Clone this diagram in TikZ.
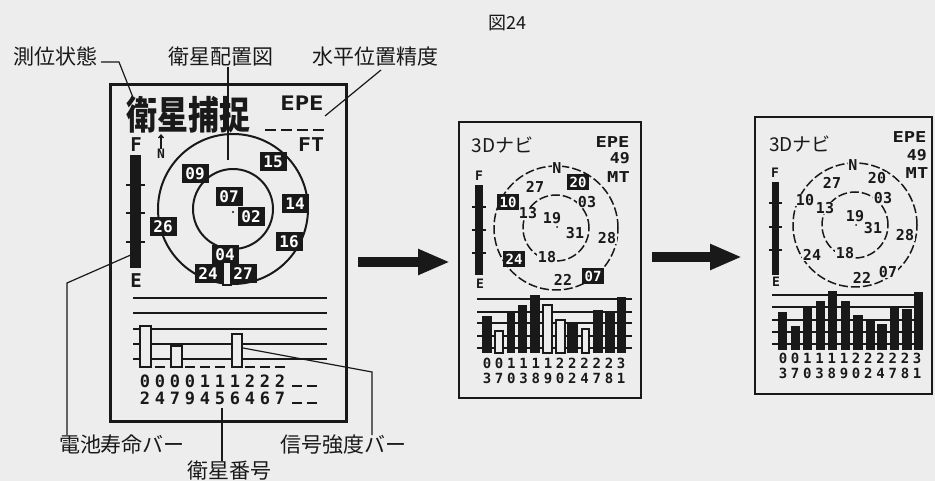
\documentclass[tikz,border=0pt]{standalone}
\usepackage{fontspec}
\setmainfont{Noto Sans CJK JP}
\newfontfamily\jp{Noto Sans CJK JP}
\newfontfamily\lcd{DejaVu Sans Mono Bold}
\usetikzlibrary{arrows.meta}
\definecolor{bg}{gray}{0.93}
\definecolor{ink}{gray}{0.1}
\newcommand\lcdt[3]{{\fontsize{#1}{#1}\selectfont\lcd\scalebox{#2}[1]{#3}}}
\begin{document}
\begin{tikzpicture}[x=1pt,y=-1pt,
  lbl/.style={font=\jp\fontsize{21}{21}\selectfont, inner sep=0pt, text=ink},
  txt/.style={inner sep=0pt, text=ink},
  dig/.style={inner sep=0pt, text=ink, text height=12pt, text depth=0pt},
  digs/.style={inner sep=0pt, text=ink, text height=10pt, text depth=0pt},
  leader/.style={draw=ink, line width=1.2pt},
  frameA/.style={draw=ink, line width=3pt, inner sep=0pt},
  frameB/.style={draw=ink, line width=1.6pt, inner sep=0pt},
  bxA/.style={fill=ink, text=white, inner sep=0pt, minimum width=27pt, minimum height=19pt, font=\lcd\fontsize{16}{16}\selectfont},
  bxB/.style={fill=ink, text=white, inner sep=0pt, minimum width=22pt, minimum height=16pt, font=\lcd\fontsize{14}{14}\selectfont},
  cl/.style={fill=bg, text=ink, inner sep=0.5pt, font=\lcd\fontsize{15}{15}\selectfont},
  rule/.style={draw=ink, line width=2pt},
  bigarrow/.style={draw=ink, line width=10pt, -{Triangle[length=32pt,width=24pt]}},
  ring/.style={draw=ink, line width=1.5pt, dash pattern=on 9pt off 3pt},
  wbar/.style={fill=bg, draw=ink, line width=1.6pt},
  kbar/.style={fill=ink}
]
\fill[bg] (0,0) rectangle (935,481);
\useasboundingbox (0,0) rectangle (935,481);

% ---------- captions ----------
\node[font=\jp\fontsize{18}{18}\selectfont, inner sep=0pt, text=ink] (fig) at (507,23) {図24};
\node[lbl] (L1) at (55,57) {測位状態};
\node[lbl] (L2) at (221,57) {衛星配置図};
\node[lbl] (L3) at (375,57) {水平位置精度};
\node[lbl] (L4) at (122,445) {電池寿命バー};
\node[lbl] (L5) at (343,445) {信号強度バー};
\node[lbl] (L6) at (229,471) {衛星番号};

% ---------- screen 1 ----------
\node[frameA, minimum width=236pt, minimum height=336pt] (s1) at (228,253) {};
\node[txt] (title1) at (188.5,114.5) {\scalebox{1}[1.25]{\jp\bfseries\fontsize{31}{31}\selectfont 衛星捕捉}};
\node[txt] (epe1) at (302,103) {\lcdt{20}{1.2}{EPE}};
\foreach \x in {265,281,297,313} \draw[ink, line width=2.5pt] (\x,130) -- (\x+11,130);
\node[txt] (ft1) at (311,145) {\lcdt{19}{1.13}{FT}};
\node[txt] (f1) at (136,145) {\lcdt{19}{1}{F}};
\node[txt] (e1) at (136,281) {\lcdt{19}{1}{E}};
\fill[ink] (130,155) rectangle (141,268);
\foreach \y in {185,213,242} \draw[ink, line width=2pt] (126,\y) -- (145,\y);
\node[txt] (n1) at (161,154) {\lcdt{13}{1}{N}};
\coordinate (n1tip) at (161,134);
\draw[ink, line width=1.3pt, -{Straight Barb[length=3pt,width=5pt]}] (n1.north) -- (n1tip);
\draw[ink, line width=2pt] (233,209) circle (75pt);
\draw[ink, line width=2pt] (233,209) circle (40pt);
\fill[ink] (233,212) circle (1.2pt);
\foreach \n/\x/\y in {15/273/162, 09/195/174, 07/229/197, 02/251/217, 14/295/204, 16/289/242, 26/163/227, 04/225/255, 24/208/274, 27/243/274}
  \node[bxA] (s1b\n) at (\x,\y) {\n};
\filldraw[wbar] (223,262) rectangle (231,285);
\foreach \y in {298,313,329,344,359} \draw[ink, line width=2.5pt] (133,\y) -- (327,\y);
\filldraw[wbar, line width=2pt] (140,326) rectangle (151,367);
\filldraw[wbar, line width=2pt] (171,346) rectangle (182,367);
\filldraw[wbar, line width=2pt] (232,334) rectangle (242,367);
\foreach \x in {160,190,205,220,250,265,280} \draw[ink, line width=2.5pt] (\x-5,367) -- (\x+5,367);
\foreach \d [count=\i from 0] in {0,0,0,0,1,1,1,2,2,2}
  \node[dig] (s1r1\i) at (145+15*\i,381) {\lcdt{17}{1}{\d}};
\foreach \d [count=\i from 0] in {2,4,7,9,4,5,6,4,6,7}
  \node[dig] (s1r2\i) at (145+15*\i,398) {\lcdt{17}{1}{\d}};
\foreach \x in {297,312} {
  \draw[ink, line width=2.5pt] (\x-5,386) -- (\x+5,386);
  \draw[ink, line width=2.5pt] (\x-5,403) -- (\x+5,403);
}

% leaders of screen 1
\coordinate (c1a) at (101,62); \coordinate (c1b) at (119,62); \coordinate (c1c) at (134,100);
\draw[leader] (c1a) -- (c1b) -- (c1c);
\coordinate (c2) at (228,160);
\draw[leader] (L2.south -| c2) -- (c2);
\coordinate (c3a) at (381,70); \coordinate (c3b) at (325,116);
\draw[leader] (c3a) -- (c3b);
\coordinate (c4a) at (67,283); \coordinate (c4b) at (133,254);
\draw[leader] (L4.north -| c4a) -- (c4a) -- (c4b);
\coordinate (c5a) at (372,372); \coordinate (c5b) at (243,348);
\draw[leader] (L5.north -| c5a) -- (c5a) -- (c5b);
\coordinate (c6) at (222,408);
\draw[leader] (L6.north -| c6) -- (c6);

% ---------- arrows ----------
\coordinate (a1s) at (358,262); \coordinate (a1e) at (450,262);
\draw[bigarrow] (a1s) -- (a1e);
\coordinate (a2s) at (652,257); \coordinate (a2e) at (742,257);
\draw[bigarrow] (a2s) -- (a2e);

% ---------- screen 2 ----------
\node[frameB, minimum width=182pt, minimum height=276pt] (s2) at (550,260) {};
\node[txt] (t2) at (502.5,145) {\jp\fontsize{19}{19}\selectfont 3Dナビ};
\node[txt] (epe2) at (612.5,142.5) {\lcdt{15}{1.25}{EPE}};
\node[txt, anchor=east] (v2) at (630,158.5) {\lcdt{15}{1.1}{49}};
\node[txt] (mt2) at (618.5,177) {\lcdt{15}{1.25}{MT}};
\node[txt] (f2) at (479,176) {\lcdt{13}{1}{F}};
\node[txt] (e2) at (480,284) {\lcdt{13}{1}{E}};
\fill[ink] (475,185) rectangle (483,275);
\foreach \y in {207,230,253} \draw[ink, line width=1.6pt] (472,\y) -- (486,\y);
\draw[ring] (556,228) circle (62pt);
\draw[ring] (556,228) circle (33pt);
\fill[ink] (557,227) circle (1pt);
\foreach \n/\x/\y in {N/557/168, 27/535/187, 03/587/202, 13/528/213, 19/552/218, 31/575/233, 28/607/238, 18/547/257, 22/563/280}
  \node[cl] (s2l\n) at (\x,\y) {\n};
\foreach \n/\x/\y in {20/578/182, 10/508/202, 24/514/259, 07/593/276}
  \node[bxB] (s2b\n) at (\x,\y) {\n};
\foreach \y in {299,312,323,336,348} \draw[rule] (477,\y) -- (632,\y);
\foreach \a/\b/\t in {482/492/316, 507/515/313, 518/527/305, 530/540/295, 567/578/323, 593/603/310, 605/615/313, 617/626/297}
  \fill[kbar] (\a,\t) rectangle (\b,353);
\foreach \a/\b/\t in {495/503/331, 543/552/305, 556/565/320, 582/589/329}
  \filldraw[wbar] (\a,\t) rectangle (\b,353);
\foreach \d [count=\i from 0] in {0,0,1,1,1,1,2,2,2,2,2,3}
  \node[digs] (s2r1\i) at (487+12.2*\i,363) {\lcdt{14}{1}{\d}};
\foreach \d [count=\i from 0] in {3,7,0,3,8,9,0,2,4,7,8,1}
  \node[digs] (s2r2\i) at (487+12.2*\i,378) {\lcdt{14}{1}{\d}};

% ---------- screen 3 ----------
\node[frameB, minimum width=177pt, minimum height=277pt] (s3) at (843.5,255.5) {};
\node[txt] (t3) at (800,144) {\jp\fontsize{19}{19}\selectfont 3Dナビ};
\node[txt] (epe3) at (909.5,137.5) {\lcdt{15}{1.25}{EPE}};
\node[txt, anchor=east] (v3) at (927,155) {\lcdt{15}{1.1}{49}};
\node[txt] (mt3) at (917,173) {\lcdt{15}{1.25}{MT}};
\node[txt] (f3) at (775,173) {\lcdt{13}{1}{F}};
\node[txt] (e3) at (776,282) {\lcdt{13}{1}{E}};
\fill[ink] (772,182) rectangle (779,275);
\foreach \y in {203,227,250} \draw[ink, line width=1.6pt] (769,\y) -- (782,\y);
\draw[ring] (855,225) circle (62pt);
\draw[ring] (855,225) circle (33pt);
\fill[ink] (856,225) circle (1pt);
\foreach \n/\x/\y in {N/853/165, 20/877/178, 27/832/183, 10/805/200, 03/883/198, 13/825/208, 19/855/216, 31/873/228, 28/905/235, 24/812/255, 18/845/253, 22/862/278, 07/888/272}
  \node[cl] (s3l\n) at (\x,\y) {\n};
\foreach \y in {295,307,320,332,344} \draw[rule] (772,\y) -- (923,\y);
\foreach \a/\b/\t in {778/787/312, 791/800/326, 803/812/308, 816/825/301, 828/837/291, 841/850/301, 853/863/315, 866/875/319, 877/887/324, 890/899/307, 902/912/309, 914/923/292}
  \fill[kbar] (\a,\t) rectangle (\b,350);
\foreach \d [count=\i from 0] in {0,0,1,1,1,1,2,2,2,2,2,3}
  \node[digs] (s3r1\i) at (783+12.2*\i,358) {\lcdt{14}{1}{\d}};
\foreach \d [count=\i from 0] in {3,7,0,3,8,9,0,2,4,7,8,1}
  \node[digs] (s3r2\i) at (783+12.2*\i,373) {\lcdt{14}{1}{\d}};
\end{tikzpicture}
\end{document}
